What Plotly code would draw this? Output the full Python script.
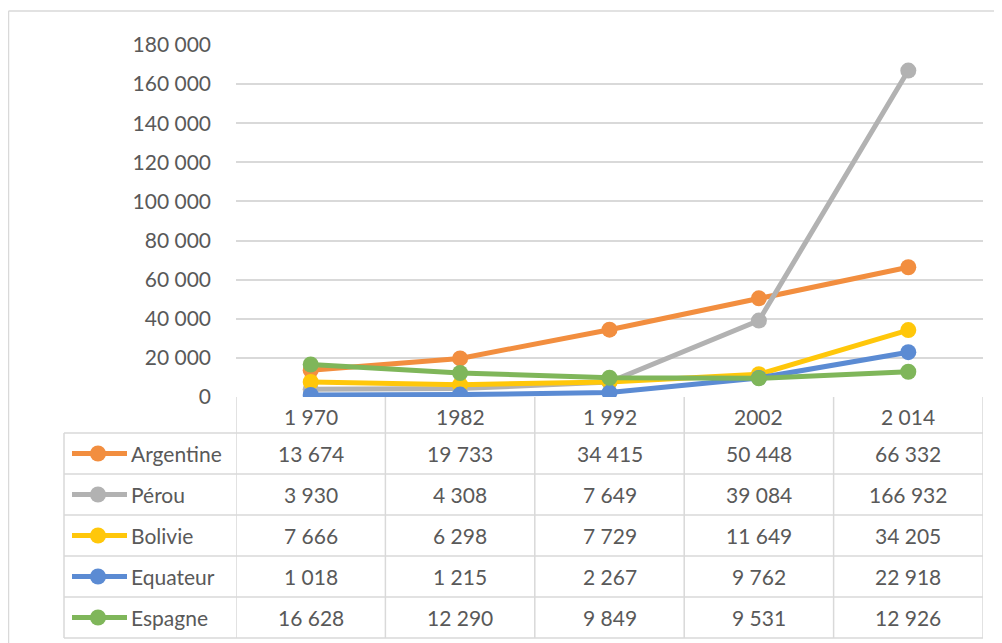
import plotly.graph_objects as go

categories = ["1 970", "1982", "1 992", "2002", "2 014"]
series_names = ["Argentine", "Pérou", "Bolivie", "Equateur", "Espagne"]
argentine = [13674, 19733, 34415, 50448, 66332]
perou = [3930, 4308, 7649, 39084, 166932]
bolivie = [7666, 6298, 7729, 11649, 34205]
equateur = [1018, 1215, 2267, 9762, 22918]
espagne = [16628, 12290, 9849, 9531, 12926]
series_values = [argentine, perou, bolivie, equateur, espagne]
colors = ["#F28E3F", "#B2B2B2", "#FFC70A", "#5B8BD3", "#7FB65A"]

# page is rendered with an 8px body margin; work in page pixels and convert
OFF = 8
W, H = 994, 635
FONT = "Lato"
FS = 21
TXT = "#595959"
GRID = "#D9D9D9"

def px(x):
    return (x - OFF) / W

def py(y):
    return 1 - (y - OFF) / H

plot_left, plot_right, plot_top, plot_bottom = 236, 983, 45, 397
header_bottom = 433
row_h = 41
table_left = 64

fig = go.Figure()
xs = list(range(len(categories)))
for name, vals, col in zip(series_names, series_values, colors):
    fig.add_trace(go.Scatter(
        x=xs, y=vals, name=name, mode="lines+markers",
        line=dict(color=col, width=5),
        marker=dict(color=col, size=16),
        hoverinfo="skip",
    ))

shapes = []
annotations = []

# outer chart border (top and left visible)
shapes.append(dict(type="line", xref="paper", yref="paper",
                   x0=px(8.5), x1=px(1002), y0=py(11), y1=py(11),
                   line=dict(color=GRID, width=1.5)))
shapes.append(dict(type="line", xref="paper", yref="paper",
                   x0=px(8.5), x1=px(8.5), y0=py(11), y1=py(643),
                   line=dict(color=GRID, width=1.5)))

n = len(categories)
table_bottom = header_bottom + row_h * len(series_names)
for i in range(n + 1):
    shapes.append(dict(type="line", xref="x", yref="paper",
                       x0=i - 0.5, x1=i - 0.5, y0=py(table_bottom), y1=py(plot_bottom),
                       line=dict(color=GRID, width=1.5)))
shapes.append(dict(type="line", xref="paper", yref="paper",
                   x0=px(table_left), x1=px(table_left), y0=py(table_bottom), y1=py(header_bottom),
                   line=dict(color=GRID, width=1.5)))
for r in range(len(series_names) + 1):
    yy = header_bottom + r * row_h
    shapes.append(dict(type="line", xref="paper", yref="paper",
                       x0=px(table_left), x1=px(plot_right), y0=py(yy), y1=py(yy),
                       line=dict(color=GRID, width=1.5)))

for i, c in enumerate(categories):
    annotations.append(dict(x=i, y=py((plot_bottom + header_bottom) / 2 + 1), xref="x", yref="paper",
                            text=c, showarrow=False, font=dict(family=FONT, size=FS, color=TXT),
                            xanchor="center", yanchor="middle"))

def fmt(v):
    return f"{v:,}".replace(",", " ")

for r, (name, vals, col) in enumerate(zip(series_names, series_values, colors)):
    yc = header_bottom + r * row_h + row_h / 2
    for i, v in enumerate(vals):
        annotations.append(dict(x=i, y=py(yc), xref="x", yref="paper",
                                text=fmt(v), showarrow=False,
                                font=dict(family=FONT, size=FS, color=TXT),
                                xanchor="center", yanchor="middle"))
    shapes.append(dict(type="line", xref="paper", yref="paper",
                       x0=px(72), x1=px(127), y0=py(yc), y1=py(yc),
                       line=dict(color=col, width=5)))
    shapes.append(dict(type="circle", xref="paper", yref="paper",
                       x0=px(98 - 8), x1=px(98 + 8), y0=py(yc + 8), y1=py(yc - 8),
                       fillcolor=col, line=dict(color=col, width=0)))
    annotations.append(dict(x=px(129), y=py(yc), xref="paper", yref="paper",
                            text=name, showarrow=False,
                            font=dict(family=FONT, size=FS, color=TXT),
                            xanchor="left", yanchor="middle"))

fig.update_layout(
    width=W, height=H,
    margin=dict(l=0, r=0, t=0, b=0, autoexpand=False),
    paper_bgcolor="white", plot_bgcolor="white",
    showlegend=False,
    separators=", ",
    font=dict(family=FONT, size=FS, color=TXT),
    xaxis=dict(domain=[px(plot_left), px(plot_right)], range=[-0.5, n - 0.5],
               showticklabels=False, showgrid=False, zeroline=False, showline=False,
               automargin=False, fixedrange=True),
    yaxis=dict(domain=[py(plot_bottom), py(plot_top)], range=[0, 180000],
               dtick=20000, tickformat=",d", showgrid=True, gridcolor=GRID, gridwidth=1.5,
               zeroline=False, showline=False, ticks="", ticklabelstandoff=24,
               automargin=False,
               tickfont=dict(family=FONT, size=FS, color=TXT), fixedrange=True),
    shapes=shapes,
    annotations=annotations,
)

fig.write_html("out.html")
